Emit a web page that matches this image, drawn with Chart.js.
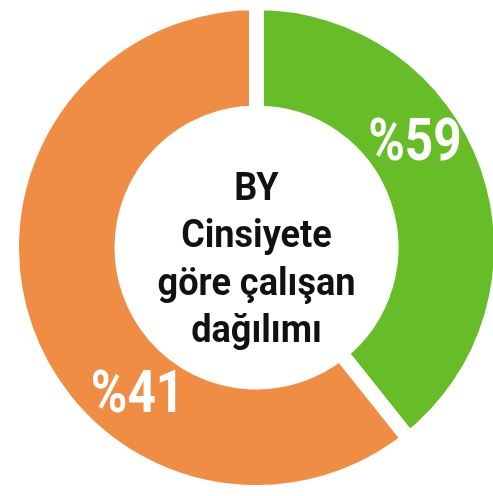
<!DOCTYPE html>
<html>
<head>
<meta charset="utf-8">
<script src="https://cdn.jsdelivr.net/npm/chart.js@4"></script>
<style>
  html, body { margin: 0; padding: 0; background: #fff; overflow: hidden; }
  #wrap { position: absolute; left: 0; top: -5.5px; width: 513px; height: 505px; }
</style>
</head>
<body>
<div id="wrap"><canvas id="chart"></canvas></div>
<script>
// slice data (shares as drawn), label texts printed on slices
const categories = ['Kadın', 'Erkek'];
const values = [39.3, 60.7];
const sliceLabels = ['%59', '%41'];
const colors = ['#66bd28', '#f08d45'];
const centerLines = ['BY', 'Cinsiyete', 'göre çalışan', 'dağılımı'];
const labelFrac = [0.4, 0.354];

const sliceText = {
  id: 'sliceText',
  afterDatasetsDraw(chart) {
    const ctx = chart.ctx;
    const arcs = chart.getDatasetMeta(0).data;
    ctx.save();
    ctx.fillStyle = '#fff';
    ctx.textAlign = 'center';
    ctx.textBaseline = 'middle';
    ctx.font = 'bold 59px Roboto';
    arcs.forEach((a, i) => {
      const p = a.getProps(['x', 'y', 'startAngle', 'endAngle', 'innerRadius', 'outerRadius'], true);
      const ang = p.startAngle + (p.endAngle - p.startAngle) * labelFrac[i];
      const r = (p.innerRadius + p.outerRadius) / 2;
      ctx.save();
      ctx.translate(p.x + Math.cos(ang) * r, p.y + Math.sin(ang) * r);
      ctx.scale(0.84, 1);
      ctx.fillText(sliceLabels[i], 0, 2);
      ctx.restore();
    });
    // centre title
    const c = arcs[0];
    ctx.fillStyle = '#111';
    ctx.textBaseline = 'alphabetic';
    ctx.font = 'bold 38px Roboto';
    centerLines.forEach((t, i) => {
      ctx.save();
      ctx.translate(c.x, c.y - 48 + i * 47.5);
      ctx.scale(0.95, 1);
      ctx.fillText(t, 0, 0);
      ctx.restore();
    });
    ctx.restore();
  }
};

new Chart(document.getElementById('chart'), {
  type: 'doughnut',
  data: {
    labels: categories,
    datasets: [{ data: values, backgroundColor: colors, borderWidth: 15, borderColor: '#fff', borderAlign: 'center' }]
  },
  options: {
    responsive: true,
    maintainAspectRatio: false,
    animation: false,
    cutout: '54.9%',
    layout: { padding: 0 },
    plugins: { legend: { display: false }, tooltip: { enabled: false } }
  },
  plugins: [sliceText]
});
</script>
</body>
</html>
